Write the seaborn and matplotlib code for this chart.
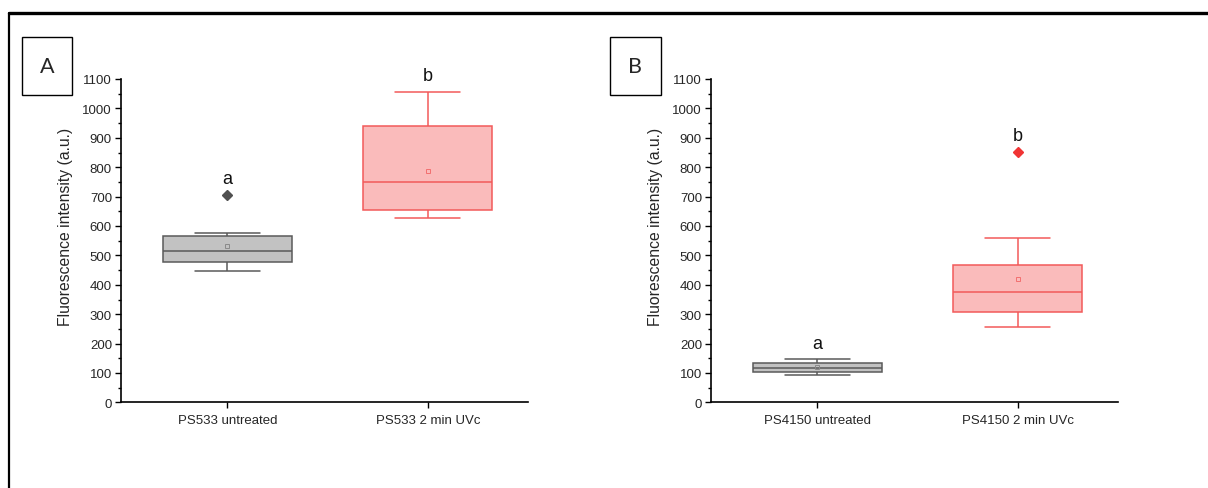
import numpy as np
import pandas as pd
import matplotlib
matplotlib.use("Agg")
import matplotlib.pyplot as plt
import seaborn as sns
from matplotlib.lines import Line2D
from matplotlib.patches import Rectangle
from matplotlib.ticker import MultipleLocator

# ---------------- data ----------------
groups_A = ["PS533 untreated", "PS533 2 min UVc"]
groups_B = ["PS4150 untreated", "PS4150 2 min UVc"]

# observations chosen so that quartiles / whiskers / mean / outliers match the boxes
vals_A_untreated = [448, 462, 477, 495, 514, 552, 566, 576, 707]
vals_A_uvc = [626, 640, 654, 690, 749, 790, 940, 947, 1056]
vals_B_untreated = [94, 98, 102, 112, 118, 128, 133, 139, 147]
vals_B_uvc = [258, 262, 309, 313, 377, 383, 466, 560, 852]

letters_A = ["a", "b"]
letters_B = ["a", "b"]
panel_labels = ["A", "B"]
y_label = "Fluorescence intensity (a.u.)"

# ---------------- style ----------------
sns.set_theme(style="ticks")
plt.rcParams["font.family"] = ["Liberation Sans", "DejaVu Sans"]

fills = ["#c2c2c2", "#fabbbb"]
edges = ["#5a5a5a", "#f25a5a"]
flier_cols = ["#505050", "#f03434"]
mean_cols = ["#8a8a8a", "#f27070"]

W, H = 1208, 489
fig = plt.figure(figsize=(W / 100, H / 100), dpi=100)
fig.patch.set_facecolor("white")

axA = fig.add_axes([121 / W, 1 - 403.4 / H, 407 / W, (403.4 - 80) / H])
axB = fig.add_axes([711 / W, 1 - 403.4 / H, 407 / W, (403.4 - 80) / H])


def draw_panel(ax, groups, samples, letters):
    df = pd.DataFrame({
        "group": np.repeat(groups, [len(s) for s in samples]),
        "value": np.concatenate(samples),
    })
    for g, fc, ec, flc, mc in zip(groups, fills, edges, flier_cols, mean_cols):
        sub = df[df["group"] == g]
        sns.boxplot(
            data=sub, x="group", y="value", order=groups, ax=ax,
            color=fc, linecolor=ec, saturation=1, width=0.645, linewidth=1.1,
            showmeans=True,
            meanprops=dict(marker="s", markerfacecolor="none", markeredgecolor=mc,
                           markersize=3, markeredgewidth=0.7),
            flierprops=dict(marker="D", markerfacecolor=flc, markeredgecolor=flc,
                            markersize=5.3),
        )
    for i, (s, letter) in enumerate(zip(samples, letters)):
        ax.text(i, max(s) + 55, letter, ha="center", va="center", fontsize=13,
                color="#111111", clip_on=False)

    ax.set_xlim(-0.53, 1.5)
    ax.set_ylim(0, 1100)
    ax.yaxis.set_major_locator(MultipleLocator(100))
    ax.yaxis.set_minor_locator(MultipleLocator(50))
    ax.set_xlabel("")
    ax.set_ylabel(y_label, fontsize=11.3)
    ax.yaxis.set_label_coords(-0.118, 0.547)
    ax.spines[["top", "right"]].set_visible(False)
    for sp in ["left", "bottom"]:
        ax.spines[sp].set_linewidth(1.2)
        ax.spines[sp].set_color("black")
    ax.tick_params(axis="y", which="major", length=4, width=1, pad=2.5,
                   labelsize=9.5, color="black", direction="out")
    ax.tick_params(axis="y", which="minor", length=2.5, width=1, color="black",
                   direction="out", left=True)
    ax.tick_params(axis="x", which="major", length=4, width=1, pad=4.5,
                   labelsize=9.5, color="black", direction="out")
    ax.set_facecolor("white")


draw_panel(axA, groups_A, [vals_A_untreated, vals_A_uvc], letters_A)
draw_panel(axB, groups_B, [vals_B_untreated, vals_B_uvc], letters_B)

# panel letter boxes
for (x0, x1), lab in zip([(22, 72), (610, 661)], panel_labels):
    y0, y1 = 38, 96
    fig.add_artist(Rectangle((x0 / W, 1 - y1 / H), (x1 - x0) / W, (y1 - y0) / H,
                             transform=fig.transFigure, fill=False, lw=1.0,
                             ec="black"))
    fig.text((x0 + x1) / 2 / W, 1 - (y0 + y1) / 2 / H, lab, ha="center",
             va="center", fontsize=15.5, family=["Lato", "DejaVu Sans"])

# outer frame (top and left edges)
fig.add_artist(Line2D([9 / W, 1.0], [1 - 13.5 / H, 1 - 13.5 / H],
                      transform=fig.transFigure, color="black", lw=2.4))
fig.add_artist(Line2D([9 / W, 9 / W], [0, 1 - 13.5 / H],
                      transform=fig.transFigure, color="black", lw=1.6))

fig.savefig("out.png", dpi=100)
